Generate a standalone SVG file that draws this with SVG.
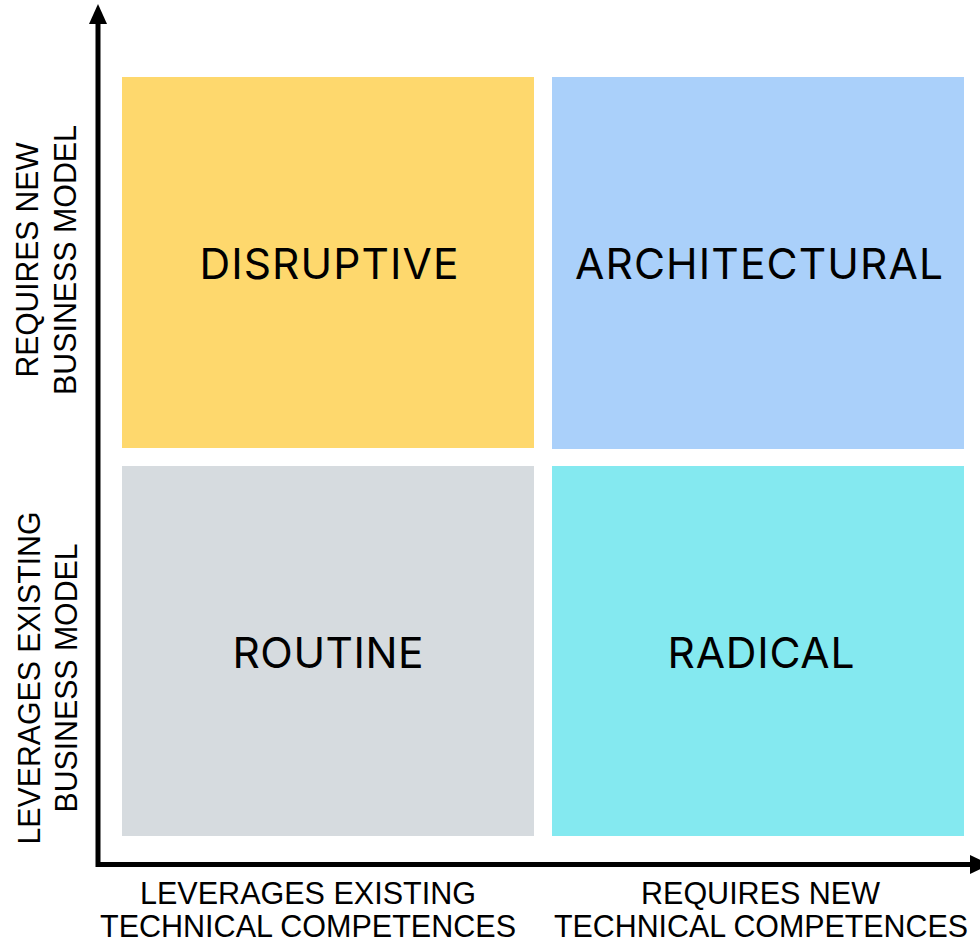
<svg xmlns="http://www.w3.org/2000/svg" width="980" height="944" viewBox="0 0 980 944">
<style>
.q{font-family:Inter,"Liberation Sans",sans-serif;font-size:42.5px;fill:#000;text-anchor:middle}
.ax{font-family:"Liberation Sans",Arial,sans-serif;font-size:32px;fill:#000;text-anchor:middle}
.axis{stroke:#000;stroke-width:5;fill:none}
</style>
<rect width="980" height="944" fill="#fff"/>
<g id="disruptive">
<rect x="122" y="77" width="412" height="371" fill="#FED86D"/>
<text class="q" x="329" y="279" textLength="259">DISRUPTIVE</text>
</g>
<g id="architectural">
<rect x="552" y="77" width="412" height="372" fill="#AAD0FA"/>
<text class="q" x="759" y="279" textLength="368">ARCHITECTURAL</text>
</g>
<g id="routine">
<rect x="122" y="466" width="412" height="370" fill="#D6DBDF"/>
<text class="q" x="328" y="668" textLength="191">ROUTINE</text>
</g>
<g id="radical">
<rect x="552" y="466" width="412" height="370" fill="#84E9F0"/>
<text class="q" x="761" y="668" textLength="187">RADICAL</text>
</g>
<g id="connectors">
<path class="axis" d="M98 867 V22"/>
<polygon points="98,4 89,24 107,24" fill="#000"/>
<path class="axis" d="M96 864.5 H972"/>
<polygon points="990,864.5 970,855 970,874" fill="#000"/>
</g>
<g id="y-labels">
<text class="ax" transform="translate(38,260) rotate(-90)" textLength="235" lengthAdjust="spacingAndGlyphs">REQUIRES NEW</text>
<text class="ax" transform="translate(76,260) rotate(-90)" textLength="270" lengthAdjust="spacingAndGlyphs">BUSINESS MODEL</text>
<text class="ax" transform="translate(40,678) rotate(-90)" textLength="333" lengthAdjust="spacingAndGlyphs">LEVERAGES EXISTING</text>
<text class="ax" transform="translate(77,678) rotate(-90)" textLength="269" lengthAdjust="spacingAndGlyphs">BUSINESS MODEL</text>
</g>
<g id="x-labels">
<text class="ax" x="308" y="904" textLength="336" lengthAdjust="spacingAndGlyphs">LEVERAGES EXISTING</text>
<text class="ax" x="308" y="937" textLength="416" lengthAdjust="spacingAndGlyphs">TECHNICAL COMPETENCES</text>
<text class="ax" x="760.5" y="904" textLength="239" lengthAdjust="spacingAndGlyphs">REQUIRES NEW</text>
<text class="ax" x="761" y="937" textLength="414" lengthAdjust="spacingAndGlyphs">TECHNICAL COMPETENCES</text>
</g>
</svg>
